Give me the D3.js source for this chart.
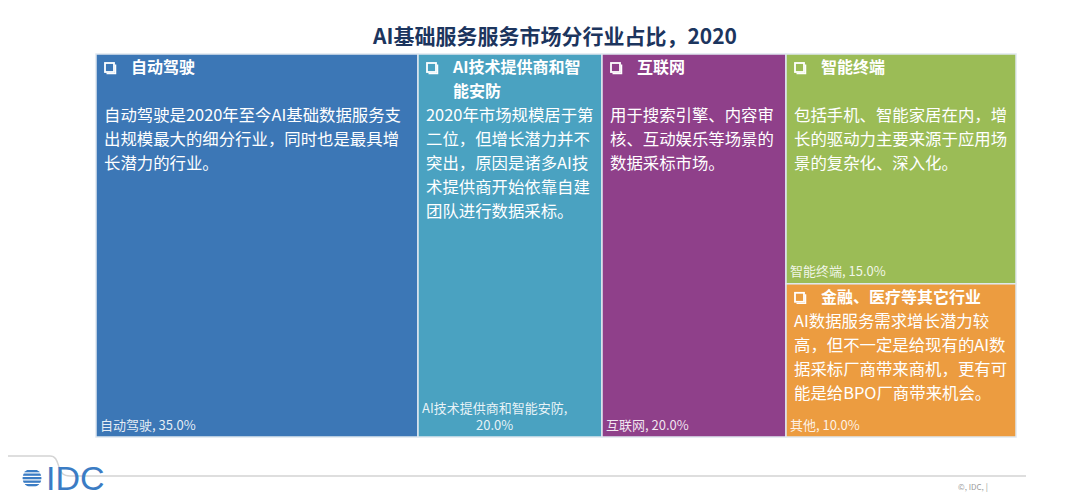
<!DOCTYPE html>
<html>
<head>
<meta charset="utf-8">
<script src="https://cdn.jsdelivr.net/npm/d3@7"></script>
<style>
  body { margin: 0; background: #fff; }
  svg { display: block; font-family: "Noto Sans CJK SC", "Noto Sans", sans-serif; }
</style>
</head>
<body>
<div id="chart"></div>
<script>
// data
var categories = ["自动驾驶", "AI技术提供商和智能安防", "互联网", "智能终端", "其他"];
var shares = [35, 20, 20, 15, 10];
var columns = ["c1", "c2", "c3", "c4", "c4"];
var headers = [
  ["自动驾驶", ""],
  ["AI技术提供商和智", "能安防"],
  ["互联网", ""],
  ["智能终端", ""],
  ["金融、医疗等其它行业"]
];
var notes = [
  ["自动驾驶是2020年至今AI基础数据服务支", "出规模最大的细分行业，同时也是最具增", "长潜力的行业。"],
  ["2020年市场规模居于第", "二位，但增长潜力并不", "突出，原因是诸多AI技", "术提供商开始依靠自建", "团队进行数据采标。"],
  ["用于搜索引擎、内容审", "核、互动娱乐等场景的", "数据采标市场。"],
  ["包括手机、智能家居在内，增", "长的驱动力主要来源于应用场", "景的复杂化、深入化。"],
  ["AI数据服务需求增长潜力较", "高，但不一定是给现有的AI数", "据采标厂商带来商机，更有可", "能是给BPO厂商带来机会。"]
];
var colors = ["#3c77b6", "#4aa2c1", "#8f408a", "#9bbc56", "#ec9c40"];
var title = "AI基础服务服务市场分行业占比，2020";

var width = 1080, height = 500;
var boxLeft = 96, boxTop = 54, boxW = 920, boxH = 383;
var lineH = 24;

var svg = d3.select("#chart").append("svg")
  .attr("width", width)
  .attr("height", height);

// title
svg.append("text")
  .attr("x", 555)
  .attr("y", 36)
  .attr("dy", "0.36em")
  .attr("text-anchor", "middle")
  .attr("font-size", 21)
  .attr("font-weight", "bold")
  .attr("fill", "#1c355e")
  .text(title);

// build hierarchy: columns, last one split in two
var rows = categories.map(function(c, i) {
  return { name: c, value: shares[i], col: columns[i], idx: i };
});
var grouped = d3.groups(rows, function(d) { return d.col; });
var tree = {
  name: "root",
  children: grouped.map(function(g) {
    if (g[1].length === 1) return g[1][0];
    return { name: g[0], children: g[1] };
  })
};

var root = d3.hierarchy(tree).sum(function(d) { return d.children ? 0 : d.value; });
d3.treemap()
  .tile(d3.treemapSliceDice)
  .size([boxW, boxH])
  .round(false)(root);

var g = svg.append("g").attr("transform", "translate(" + boxLeft + "," + boxTop + ")");

var cells = g.selectAll("g.cell")
  .data(root.leaves())
  .enter().append("g")
  .attr("class", "cell")
  .attr("transform", function(d) { return "translate(" + d.x0 + "," + d.y0 + ")"; });

cells.append("rect")
  .attr("width", function(d) { return d.x1 - d.x0; })
  .attr("height", function(d) { return d.y1 - d.y0; })
  .attr("fill", function(d) { return colors[d.data.idx]; })
  .attr("stroke", "#dfe8ef")
  .attr("stroke-width", 1.5);

// checkbox marker
cells.append("rect")
  .attr("x", 9)
  .attr("y", 9)
  .attr("width", 9)
  .attr("height", 9)
  .attr("fill", "none")
  .attr("stroke", "#fff")
  .attr("stroke-width", 1.8);
cells.append("path")
  .attr("d", "M10.5,19.6 H19.6 V10.5")
  .attr("fill", "none")
  .attr("stroke", "#fff")
  .attr("stroke-width", 1.3);

function fit(sel, maxW) {
  var len = sel.node().getComputedTextLength();
  if (len > maxW) sel.attr("textLength", maxW).attr("lengthAdjust", "spacingAndGlyphs");
}

cells.each(function(d) {
  var cell = d3.select(this);
  var w = d.x1 - d.x0, h = d.y1 - d.y0;
  var hs = headers[d.data.idx];
  hs.forEach(function(t, k) {
    var ht = cell.append("text")
      .attr("x", 35)
      .attr("y", 13.5 + k * lineH)
      .attr("dy", "0.36em")
      .attr("font-size", 16)
      .attr("font-weight", "bold")
      .attr("fill", "#fff")
      .text(t);
    if (t) fit(ht, w - 40);
  });
  var start = 13 + hs.length * lineH;
  notes[d.data.idx].forEach(function(t, k) {
    var bt = cell.append("text")
      .attr("x", 8)
      .attr("y", start + k * lineH)
      .attr("dy", "0.36em")
      .attr("font-size", 16.4)
      .attr("fill", "#fff")
      .text(t);
    fit(bt, w - 12);
  });

  // data label at bottom
  var pct = d.data.value.toFixed(1) + "%";
  var lbl = cell.append("text")
    .attr("x", 4)
    .attr("y", h - 12)
    .attr("dy", "0.36em")
    .attr("font-size", 13)
    .attr("fill", "rgba(255,255,255,0.88)")
    .text(d.data.name + ", " + pct);
  if (lbl.node().getComputedTextLength() > w * 0.8) {
    lbl.text(d.data.name + ",").attr("y", h - 29);
    var lw = lbl.node().getComputedTextLength();
    cell.append("text")
      .attr("x", 4 + lw / 2)
      .attr("y", h - 12)
      .attr("dy", "0.36em")
      .attr("text-anchor", "middle")
      .attr("font-size", 13)
      .attr("fill", "rgba(255,255,255,0.88)")
      .text(pct);
  }
});

// footer line
svg.append("path")
  .attr("d", "M8,456 H50 C56,456 57,461 59,467 C61,473 63,476 70,476 H1026")
  .attr("fill", "none")
  .attr("stroke", "#d4d4d4")
  .attr("stroke-width", 1.5);

// IDC logo
var logo = svg.append("g").attr("transform", "translate(32,478)");
logo.append("clipPath").attr("id", "globe")
  .append("circle").attr("r", 9.5);
var stripes = [-8, -4.5, -1, 2.5, 6];
logo.append("g").attr("clip-path", "url(#globe)")
  .selectAll("rect").data(stripes).enter().append("rect")
  .attr("x", -10).attr("y", function(d) { return d; })
  .attr("width", 20).attr("height", 2.3)
  .attr("fill", "#3b7cc4");
svg.append("text")
  .attr("x", 46)
  .attr("y", 490)
  .attr("font-family", "Liberation Sans Narrow, Liberation Sans, sans-serif")
  .attr("font-size", 34)
  .attr("fill", "#3b7cc4")
  .text("IDC");

svg.append("text")
  .attr("x", 958)
  .attr("y", 490)
  .attr("font-size", 8)
  .attr("fill", "#9a9a9a")
  .text("©, IDC, |");
</script>
</body>
</html>
